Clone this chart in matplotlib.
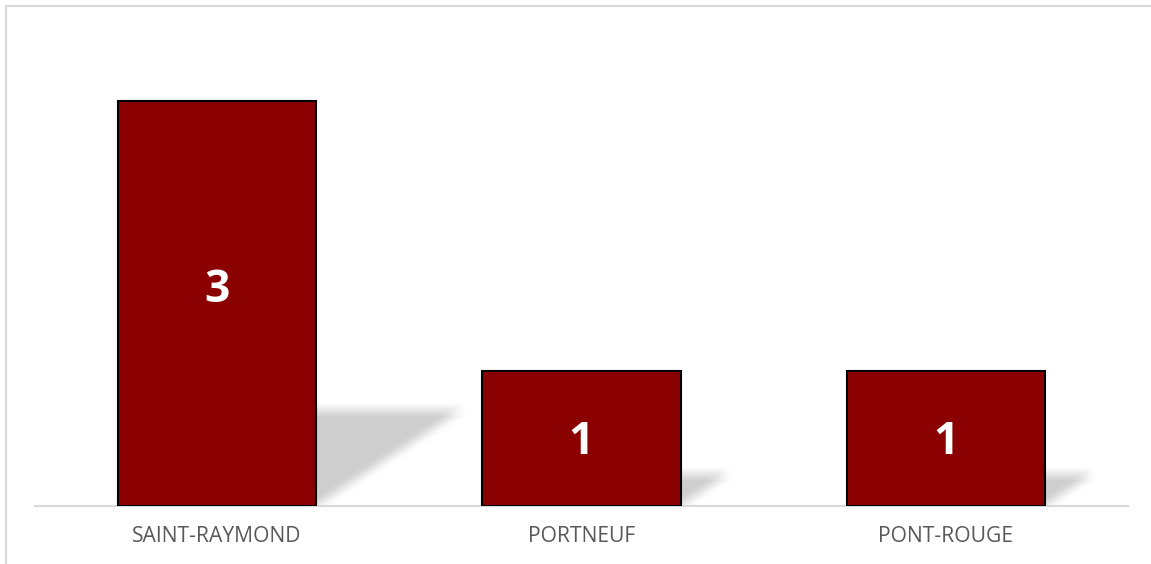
import numpy as np
import matplotlib
matplotlib.use('Agg')
import matplotlib.pyplot as plt
from matplotlib.patches import Polygon
from matplotlib.lines import Line2D
import matplotlib.transforms as mtransforms

categories = ['SAINT-RAYMOND', 'PORTNEUF', 'PONT-ROUGE']
values = [3, 1, 1]

bar_color = '#8B0000'
bar_width = 0.544

plt.rcParams['font.family'] = ['Open Sans', 'DejaVu Sans']

fig = plt.figure(figsize=(11.51, 5.64), dpi=100)
ax = fig.add_axes([35 / 1151, 58.5 / 564, 1093 / 1151, 472.5 / 564])

x = np.arange(len(categories))

# soft shadow behind each bar, projected to the right
kx, ky = 0.1327, 0.235
grid = np.linspace(-6, 6, 7)
offsets = [(dx, dy) for dx in grid for dy in grid]
for xi, v in zip(x, values):
    x0, x1 = xi - bar_width / 2, xi + bar_width / 2
    pts = [(x0, 0), (x1, 0), (x1 + kx * v, ky * v), (x0 + kx * v, ky * v)]
    for dx, dy in offsets:
        tr = mtransforms.offset_copy(ax.transData, fig=fig, x=dx, y=dy, units='dots')
        ax.add_patch(Polygon(pts, closed=True, facecolor='black', edgecolor='none',
                             alpha=0.0045, transform=tr, zorder=1))

ax.bar(x, values, width=bar_width, color=bar_color, edgecolor='black',
       linewidth=1.5, zorder=3)

for xi, v in zip(x, values):
    ax.text(xi, v * 0.56 - 0.09, str(v), ha='center', va='center',
            color='white', fontsize=32, fontweight='bold', zorder=4)

ax.set_xlim(-0.5, len(categories) - 0.5)
ax.set_ylim(0, 3.5)
ax.set_xticks(x)
ax.set_xticklabels(categories, fontsize=15.2, color='#595959')
ax.tick_params(axis='x', length=0, pad=15)
ax.set_yticks([])
for s in ['top', 'right', 'left']:
    ax.spines[s].set_visible(False)
ax.spines['bottom'].set_color('#d9d9d9')
ax.spines['bottom'].set_linewidth(1.5)
ax.spines['bottom'].set_zorder(2)

# outer chart border (top and left visible)
fig.add_artist(Line2D([5.5 / 1151, 1], [1 - 5.5 / 564, 1 - 5.5 / 564],
                      transform=fig.transFigure, color='#d9d9d9', linewidth=1.5))
fig.add_artist(Line2D([5.5 / 1151, 5.5 / 1151], [0, 1 - 5.5 / 564],
                      transform=fig.transFigure, color='#d9d9d9', linewidth=1.5))

fig.savefig('out.png', dpi=100)
